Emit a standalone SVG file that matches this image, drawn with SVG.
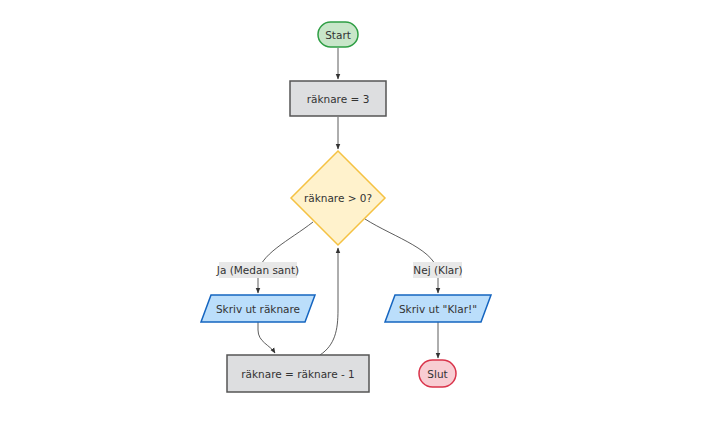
<svg xmlns="http://www.w3.org/2000/svg" width="714" height="425" viewBox="0 0 714 425">
<style>
text{font-family:"DejaVu Sans",Verdana,sans-serif;font-size:10.5px;fill:#333;text-anchor:middle;dominant-baseline:central}
.e{fill:none;stroke:#333;stroke-width:0.8}
.proc{fill:#dddee0;stroke:#555;stroke-width:1.5}
.io{fill:#bbdefb;stroke:#1565c0;stroke-width:1.5}
.lbl{fill:#e8e8e8}
</style>
<defs><marker id="a" viewBox="0 0 10 10" refX="9" refY="5" markerWidth="7" markerHeight="7" orient="auto"><path d="M0,1L10,5L0,9z" fill="#333"/></marker></defs>
<rect width="714" height="425" fill="#fff"/>
<g id="edges">
<path class="e" d="M338,48V79" marker-end="url(#a)"/>
<path class="e" d="M338,117V149" marker-end="url(#a)"/>
<path class="e" d="M313,222C290,240 258,255 258,275V293" marker-end="url(#a)"/>
<path class="e" d="M365,219C395,238 438,250 438,275V293" marker-end="url(#a)"/>
<path class="e" d="M258,322V330C258,342 270,345 275,353" marker-end="url(#a)"/>
<path class="e" d="M320,355C335,345 338,330 338,310V248" marker-end="url(#a)"/>
<path class="e" d="M438,322V358" marker-end="url(#a)"/>
</g>
<g id="lbl1"><rect class="lbl" x="219" y="262" width="78" height="16"/><text x="258" y="270">Ja (Medan sant)</text></g>
<g id="lbl2"><rect class="lbl" x="413" y="262" width="49" height="16"/><text x="438" y="270">Nej (Klar)</text></g>
<g id="start"><rect x="318" y="22" width="40" height="25" rx="12.5" fill="#c8e6c9" stroke="#2e9e44" stroke-width="1.5"/><text x="338" y="35">Start</text></g>
<g id="init"><rect class="proc" x="290" y="81" width="96" height="35"/><text x="338" y="98.5">räknare = 3</text></g>
<g id="cond"><polygon points="338,151 385,198 338,245 291,198" fill="#fff2cc" stroke="#f5c242" stroke-width="1.5"/><text x="338" y="198">räknare &gt; 0?</text></g>
<g id="print"><polygon class="io" points="211,295 315,295 305,322 201,322"/><text x="258" y="308.5">Skriv ut räknare</text></g>
<g id="dec"><rect class="proc" x="227" y="355" width="142" height="37"/><text x="298" y="373.5">räknare = räknare - 1</text></g>
<g id="done"><polygon class="io" points="395,295 491,295 481,322 385,322"/><text x="438" y="308.5">Skriv ut "Klar!"</text></g>
<g id="end"><rect x="419" y="360" width="37" height="27" rx="13.5" fill="#f8cdd3" stroke="#d9334a" stroke-width="1.5"/><text x="437.5" y="373.5">Slut</text></g>
</svg>
